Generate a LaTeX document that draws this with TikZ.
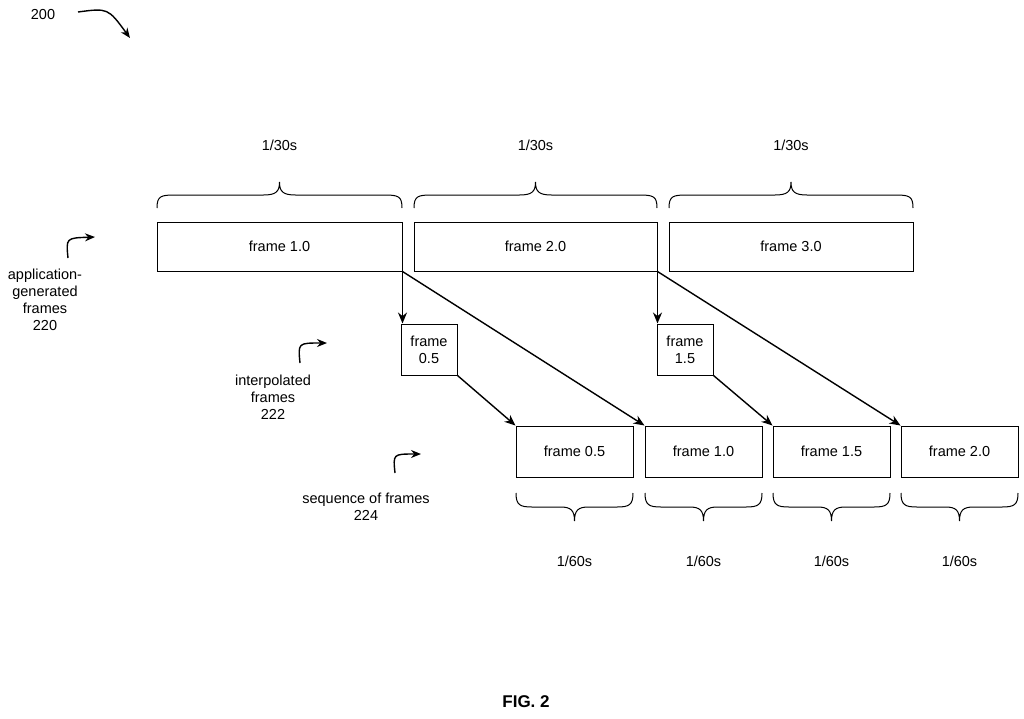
\documentclass[tikz,border=0pt]{standalone}
\usepackage{fontspec}
\setmainfont{Liberation Sans}
\usetikzlibrary{arrows.meta}
\begin{document}
\begin{tikzpicture}[x=1pt,y=-1pt,
  every node/.style={font=\fontsize{14.5}{17}\selectfont},
  fbox/.style={draw,line width=1pt,minimum height=49pt,inner sep=0pt},
  lbl/.style={align=center},
  arr/.style={-{Stealth[length=11pt,width=9pt]},line width=1.4pt},
  carr/.style={-{Stealth[length=10pt,width=8pt]},line width=1.4pt},
  br/.style={line width=1pt}]
\useasboundingbox (0,0) rectangle (1024,718);
% top row
\node[fbox,minimum width=245pt] (a1) at (279.5,246.5) {frame 1.0};
\node[fbox,minimum width=243pt] (a2) at (535.5,246.5) {frame 2.0};
\node[fbox,minimum width=244pt] (a3) at (791,246.5) {frame 3.0};
% interpolated
\node[fbox,minimum width=56pt,minimum height=51pt,align=center] (i1) at (429,349.5) {frame\\0.5};
\node[fbox,minimum width=56pt,minimum height=51pt,align=center] (i2) at (685,349.5) {frame\\1.5};
% bottom
\node[fbox,minimum width=117pt,minimum height=51pt] (b1) at (574.5,451.5) {frame 0.5};
\node[fbox,minimum width=117pt,minimum height=51pt] (b2) at (703.5,451.5) {frame 1.0};
\node[fbox,minimum width=117pt,minimum height=51pt] (b3) at (831.5,451.5) {frame 1.5};
\node[fbox,minimum width=117pt,minimum height=51pt] (b4) at (959.5,451.5) {frame 2.0};
% arrows
\draw[arr] (a1.south east) -- (a1.south east |- i1.north);
\draw[arr] (a1.south east) -- (b2.north west);
\draw[arr] (i1.south east) -- (b1.north west);
\draw[arr] (a2.south east) -- (a2.south east |- i2.north);
\draw[arr] (a2.south east) -- (b4.north west);
\draw[arr] (i2.south east) -- (b3.north west);
% top braces
\foreach \xa/\xb in {157/402,414/657,669/913}{
  \pgfmathsetmacro\xm{(\xa+\xb)/2}
  \draw[br] (\xa,208) .. controls (\xa,196) and (\xa+4,195) .. (\xa+18,195) -- (\xm-16,195)
    .. controls (\xm-4,195) and (\xm,192) .. (\xm,182) .. controls (\xm,192) and (\xm+4,195) .. (\xm+16,195)
    -- (\xb-18,195) .. controls (\xb-4,195) and (\xb,196) .. (\xb,208);
}
\node (t1) at (279.5,145) {1/30s};
\node (t2) at (535.5,145) {1/30s};
\node (t3) at (791,145) {1/30s};
% bottom braces
\foreach \xa/\xb in {516/633,645/762,773/890,901/1018}{
  \pgfmathsetmacro\xm{(\xa+\xb)/2}
  \draw[br] (\xa,493) .. controls (\xa,505) and (\xa+4,507) .. (\xa+16,507) -- (\xm-14,507)
    .. controls (\xm-4,507) and (\xm,510) .. (\xm,521) .. controls (\xm,510) and (\xm+4,507) .. (\xm+14,507)
    -- (\xb-16,507) .. controls (\xb-4,507) and (\xb,505) .. (\xb,493);
}
\node (s1) at (574.5,561) {1/60s};
\node (s2) at (703.5,561) {1/60s};
\node (s3) at (831.5,561) {1/60s};
\node (s4) at (959.5,561) {1/60s};
% labels
\node (n200) at (43,15) {200};
\coordinate (c200a) at (78,12);
\coordinate (c200b) at (130,38);
\draw[carr] (c200a) .. controls (108,8) .. (c200b);
\node[lbl] (l220) at (45,300) {application-\\generated\\frames\\220};
\coordinate (c220a) at (68,258);
\coordinate (c220b) at (95,237);
\draw[carr] (c220a) .. controls (66,238) .. (c220b);
\node[lbl] (l222) at (273,397) {interpolated\\frames\\222};
\coordinate (c222a) at (300,363);
\coordinate (c222b) at (327,343);
\draw[carr] (c222a) .. controls (298,343) .. (c222b);
\node[lbl] (l224) at (366,507) {sequence of frames\\224};
\coordinate (c224a) at (395,473);
\coordinate (c224b) at (421,454);
\draw[carr] (c224a) .. controls (393,454) .. (c224b);
\node[font=\bfseries\fontsize{17}{20}\selectfont] (fig) at (526,702) {FIG. 2};
\end{tikzpicture}
\end{document}
